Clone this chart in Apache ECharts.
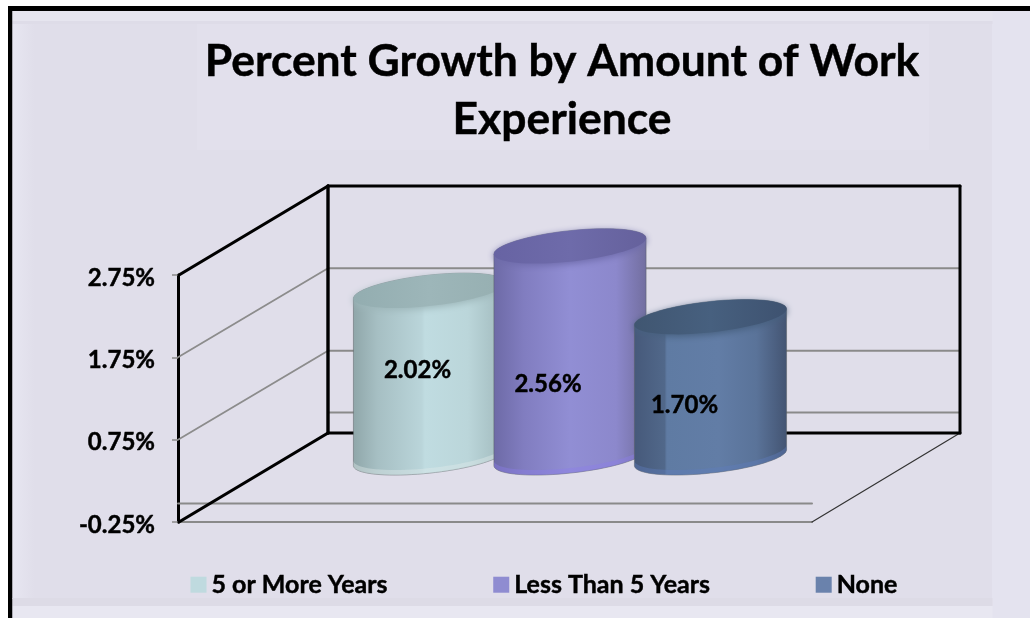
<!DOCTYPE html>
<html><head><meta charset="utf-8">
<style>html,body{margin:0;padding:0;background:#fff}#c{width:1030px;height:618px}</style>
<script src="https://cdn.jsdelivr.net/npm/echarts@6/dist/echarts.min.js"></script>
</head><body><div id="c"></div>
<script>
const titleText = 'Percent Growth by Amount of Work\nExperience';
const categoryLabels = [''];
const seriesNames = ['5 or More Years', 'Less Than 5 Years', 'None'];
const seriesValues = [2.02, 2.56, 1.70];
const yTicks = [-0.25, 0.75, 1.75, 2.75];
const wallLevels = [0.75, 1.75];
const FONT = 'Lato';
const depthX = 150, depthY = -89;
const styles = [
 {solid:'#BFDADF',
  edge:[[0,'#8FA6A9'],[.16,'#A6BFC3'],[.45,'#BAD5DA'],[.47,'#C0DCE1'],[.75,'#BBD6DA'],[1,'#9FB8BB']],
  top:['#93ADB0','#9DB6B9','#96AFB1'], rim:'rgba(225,236,236,0.4)', lx:-12, ly:-3.5},
 {solid:'#8F8CD1',
  edge:[[0,'#6D6AA6'],[.2,'#817DC0'],[.5,'#918ED4'],[.8,'#8C88CC'],[1,'#726E9F']],
  top:['#6763A3','#6E6BAA','#65619C'], rim:'rgba(140,125,235,0.4)', lx:-22, ly:32},
 {solid:'#6A82AC',
  edge:[[0,'#46597A'],[.2,'#51688A'],[.215,'#5F7BA3'],[.55,'#627DA6'],[.8,'#5A7399'],[1,'#435472']],
  top:['#405671','#47607F','#3E5270'], rim:'rgba(95,125,190,0.4)', lx:-26, ly:17.5}
];
const BOLD = {textBorderColor:'#000',textBorderWidth:0.45};
function ring(cx, cy, a, b, s, from, to, n) {
  const pts = [];
  for (let i = 0; i <= n; i++) {
    const t = from + (to - from) * i / n;
    pts.push([cx + a * Math.cos(t), cy + b * Math.sin(t) + s * Math.cos(t)]);
  }
  return pts;
}
function gradStops(c) {
  return new echarts.graphic.LinearGradient(0,0,1,0,c.map(p=>({offset:p[0],color:p[1]})));
}
function hGrad(c) {
  return gradStops(c.map((col,i)=>[i/(c.length-1),col]));
}
function cylinderSeries(idx) {
  const st = styles[idx];
  return {
    type:'custom', name:seriesNames[idx], z:3+idx,
    itemStyle:{color:st.solid},
    data:[[0, seriesValues[idx]]],
    encode:{x:0,y:1},
    silent:true,
    renderItem(params, api) {
      const band = api.size([1,0])[0];
      const base = api.coord([api.value(0), 0]);
      const top = api.coord([api.value(0), api.value(1)]);
      const cx = base[0] + depthX/2 + (idx-1)*band*0.2216;
      const a = band*0.12, b = 15.5, s = -8;
      const yB = base[1] + depthY/2 + 0.7, yT = top[1] + depthY/2;
      const body = ring(cx,yT,a,b,s,Math.PI,2*Math.PI,40).concat(ring(cx,yB,a,b,s,0,Math.PI,40));
      const cap = ring(cx,yT,a,b,s,0,2*Math.PI,72);
      const rim = ring(cx,yB,a,b,s,0,Math.PI,40).concat(ring(cx,yB-5,a,b,s,Math.PI,0,40));
      const txt = seriesValues[idx].toFixed(2)+'%';
      return {type:'group',children:[
        {type:'polygon',shape:{points:body},style:{fill:gradStops(st.edge),stroke:'rgba(90,95,100,0.5)',lineWidth:1}},
        {type:'polygon',shape:{points:rim},style:{fill:st.rim}},
        {type:'polygon',shape:{points:cap},style:{fill:hGrad(st.top),shadowBlur:7,shadowColor:st.top[1],shadowOffsetY:2}},
        {type:'text',style:{text:txt,x:cx+st.lx,y:(yT+yB)/2+st.ly,align:'center',verticalAlign:'middle',
          font:'bold 24px '+FONT,fill:'#000',stroke:'#000',lineWidth:0.45}}
      ]};
    }
  };
}
const line = (x1,y1,x2,y2,stroke,lineWidth)=>({type:'line',shape:{x1,y1,x2,y2},style:{stroke,lineWidth,lineCap:'round'}});
const gridSeries = {
  type:'custom', name:'walls', z:1, silent:true,
  data:wallLevels.map(v=>[0,v]), encode:{x:0,y:1},
  renderItem(params, api){
    const c = params.coordSys, y = api.coord([0,api.value(1)])[1];
    return {type:'group',children:[
      line(c.x,y,c.x+depthX,y+depthY,'#8c8c8c',1.8),
      line(c.x+depthX,y+depthY,c.x+depthX+632,y+depthY,'#8a8a8a',2)
    ]};
  }
};
const boxSeries = {
  type:'custom', name:'box', z:2, silent:true,
  data:[[0,-0.25,0,2.75]], encode:{x:0,y:1},
  renderItem(params, api){
    const c = params.coordSys;
    const yL = api.coord([0,api.value(1)])[1], yH = api.coord([0,api.value(3)])[1], yZ = api.coord([0,api.value(2)])[1];
    const bl = c.x+depthX, br = bl+632, k='#000';
    return {type:'group',children:[
      line(bl,yZ+depthY,br,yZ+depthY,'#8a8a8a',2),
      line(c.x,yZ+2,c.x+c.width,yZ+2,'#8a8a8a',2),
      line(c.x+c.width,yL,br,yL+depthY,'#333',1.2),
      line(bl,yL+depthY,br,yL+depthY,k,3),
      line(bl,yH+depthY,br,yH+depthY,k,3),
      line(bl,yH+depthY,bl,yL+depthY,k,3.4),
      line(br,yH+depthY,br,yL+depthY,k,3),
      line(c.x+1,yH,bl,yH+depthY,k,3.2),
      line(c.x+1,yL,bl,yL+depthY,k,3.2)
    ]};
  }
};
const rect=(x,y,width,height,fill,z)=>({type:'rect',shape:{x,y,width,height},style:{fill},z:z||-10,silent:true});
const chart = echarts.init(document.getElementById('c'),null,{renderer:'canvas'});
chart.setOption({
  animation:false,
  backgroundColor:'#ffffff',
  graphic:[
    rect(8,6,1022,612,'#000',-12),
    rect(12.5,11,1017.5,607,'#E0DEEA',-11),
    rect(992,11,38,607,'#E4E3EF',-10),
    rect(12.5,11,980,10,'#E6E5EF',-10),
    rect(12.5,21,980,3,'#DEDCE8',-10),
    {type:'rect',shape:{x:12.5,y:24,width:22,height:575},style:{fill:new echarts.graphic.LinearGradient(0,0,1,0,[{offset:0,color:'#E7E6F1'},{offset:1,color:'#E0DEEA'}])},z:-10,silent:true},
    rect(12.5,598,980,8,'#DDDBE6',-10),
    rect(12.5,606,980,12,'#E8E7F1',-10),
    rect(197,24,732,126,'#E2E0EC',-9)
  ],
  title:{text:titleText,left:557,top:28,textAlign:'center',
    textStyle:Object.assign({fontFamily:FONT,fontWeight:'bold',fontSize:44.4,lineHeight:58,color:'#000'},BOLD)},
  legend:{data:seriesNames,left:190.5,top:572,padding:0,itemWidth:16,itemHeight:16,itemGap:105.5,icon:'rect',
    textStyle:Object.assign({fontFamily:FONT,fontWeight:'bold',fontSize:25,color:'#000'},BOLD)},
  grid:{left:178,top:275,width:634,height:247},
  xAxis:{type:'category',data:categoryLabels,axisTick:{show:false},axisLabel:{show:false},
    axisLine:{onZero:false,lineStyle:{color:'#8a8a8a',width:2}},splitLine:{show:false}},
  yAxis:{type:'value',min:-0.25,max:2.75,interval:0.25,
    axisLine:{show:true,onZero:false,lineStyle:{color:'#000',width:3}},
    axisTick:{show:true,length:6,customValues:yTicks,lineStyle:{color:'#8a8a8a',width:1.5}},
    axisLabel:Object.assign({customValues:yTicks,margin:23,verticalAlign:'top',lineHeight:6,formatter:v=>v.toFixed(2)+'%',
      fontFamily:FONT,fontWeight:'bold',fontSize:24,color:'#000'},BOLD),
    splitLine:{show:false}},
  series:[gridSeries,boxSeries,cylinderSeries(0),cylinderSeries(1),cylinderSeries(2)]
});
</script></body></html>
